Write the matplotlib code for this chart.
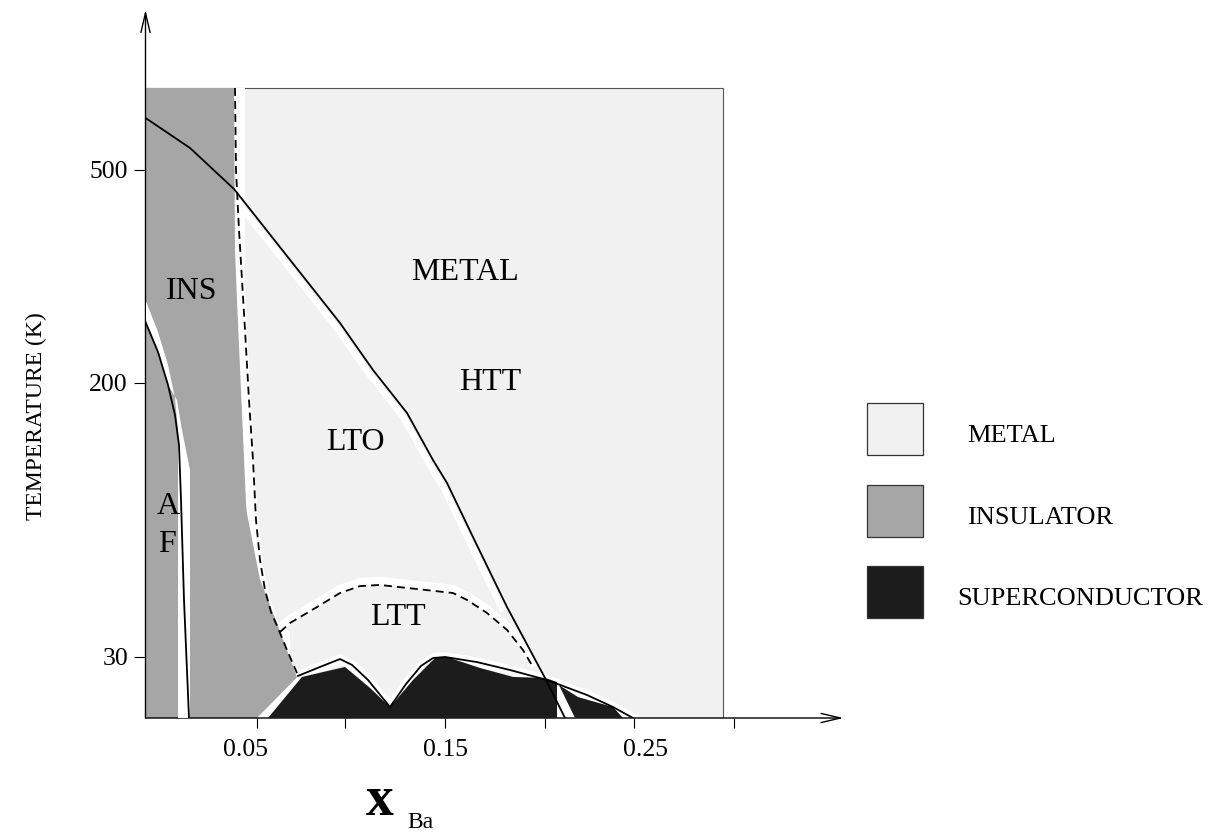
import numpy as np
import matplotlib
matplotlib.use('Agg')
import matplotlib.pyplot as plt
from matplotlib.patches import Polygon, Rectangle
from matplotlib.transforms import offset_copy

plt.rcParams['font.family'] = ['Liberation Serif', 'DejaVu Serif']

# schematic temperature axis: piecewise linear between these anchors
T_ANCHOR = [0, 30, 200, 500, 800]
H_ANCHOR = [0, 61, 335, 548, 761]


def t_fwd(t):
    return np.interp(t, T_ANCHOR, H_ANCHOR)


def t_inv(h):
    return np.interp(h, H_ANCHOR, T_ANCHOR)


# phase boundaries, x_Ba vs T (K)
box_x, box_T = 0.2888, 615.5

ins_x = [0, .04425, .04475, .04575, .05025, .05075, .05725, .06575, .07575, .05575, 0]
ins_T = [615.5, 615.5, 387, 317, 125.5, 119, 78, 51, 20, 0, 0]

gap_x = [.04225, .04975, .04975, .05075, .05275, .05475, .05675, .05925, .06225,
         .06625, .07225, .07275, .07825, .06125, .04225]
gap_T = [615.5, 615.5, 331, 274.7, 189.4, 139.8, 108.8, 84.0, 65.4,
         51.7, 45.5, 25.1, 20.2, 0, 0]

af_gap_x = [0, .00625, .01125, .01475, .01625, .01625, .02225, .02225, .01825,
            .01575, .01125, .00625, 0]
af_gap_T = [316.9, 271.8, 225.4, 190.7, 169.6, 0, 0, 146.0, 170.8,
            189.4, 198.8, 243.7, 285.9]

af_x = [0, .00625, .01125, .01475, .01675, .01775, .01925, .02175]
af_T = [285.9, 243.7, 198.8, 180.1, 161.5, 127.4, 65.4, 0]

struct_x = [0, .02225, .04425, .09725, .11375, .13075, .14375, .15075, .16375,
            .18075, .19975, .20975]
struct_T = [573.3, 531.0, 473.2, 284.5, 218.3, 181.4, 152.2, 138.0, 104.4,
            61.0, 19.7, 0]

mi_x = [.04475, .04525, .04675, .04825, .04975, .05175, .05375, .05525, .05725,
        .05975, .06275, .06625, .07075, .07575]
mi_T = [615.5, 500, 415.5, 345.1, 274.7, 189.4, 152.2, 115.0, 90.2,
        71.6, 57.9, 48.0, 34.3, 22.1]

ltt_x = [.06725, .07225, .08575, .09725, .10725, .11725, .15375, .16075, .17075,
         .18075, .18875, .19375]
ltt_T = [45.5, 51.1, 61.0, 69.7, 74.0, 74.7, 69.7, 65.4, 57.3, 46.8, 34.3, 25.1]

sc_x = [.06125, .07825, .09975, .11225, .12225, .13375, .14475, .15075, .16725,
        .18375, .19975, .20575, .20575]
sc_T = [0, 20.2, 25.1, 14.8, 5.4, 18.7, 29.5, 30.0, 24.6, 20.2, 19.7, 17.7, 0]

sc2_x = [.20675, .21625, .23375, .23875, .21475]
sc2_T = [16.2, 10.3, 5.4, 0, 0]

sc_gap_x = [.20375, .20375, .21625, .20825]
sc_gap_T = [19.7, 0, 0, 18.7]

tc_x = [.07625, .08725, .09725, .10325, .11125, .12225, .13025, .13775, .14375,
        .14975, .16575, .18225, .20075, .22075, .23375, .24375]
tc_T = [20.7, 25.1, 29.0, 26.1, 18.7, 5.4, 16.7, 25.6, 29.5,
        30.0, 27.5, 23.6, 18.7, 11.3, 5.4, 0]

region_labels = ['INS', 'METAL', 'HTT', 'LTO', 'LTT', 'A', 'F']
region_x = [.02325, .15975, .17225, .10475, .12625, .01125, .01075]
region_T = [328.2, 356.3, 200, 162.8, 54.2, 123.1, 99.5]

x_marks = [0.05575, 0.09975, 0.14975, 0.19975, 0.24425, 0.29425]
x_labels = ['0.05', '0.15', '0.25']
x_label_pos = [0.05, 0.15, 0.25]
y_ticks = [30, 200, 500]

legend_names = ['METAL', 'INSULATOR', 'SUPERCONDUCTOR']

METAL = '#f1f1f1'
INSUL = '#a6a6a6'
SUPER = '#1c1c1c'
legend_colors = [METAL, INSUL, SUPER]

W, H = 1212, 836
fig = plt.figure(figsize=(W / 100, H / 100), dpi=100)
ax = fig.add_axes([145.5 / W, 118 / H, 720 / W, 718 / H])
ax.set_xlim(0, 0.36)
ax.set_yscale('function', functions=(t_fwd, t_inv))
ax.set_ylim(0, 739.4)
ax.patch.set_visible(False)
for s in ax.spines.values():
    s.set_visible(False)

ax.add_patch(Rectangle((0, 0), box_x, box_T, facecolor=METAL,
                       edgecolor='#555555', lw=0.8, zorder=1))
ax.add_patch(Polygon(np.column_stack([gap_x, gap_T]), closed=True,
                     facecolor='white', edgecolor='none', zorder=2))

# white halos next to the boundary lines
halo_lo = offset_copy(ax.transData, fig=fig, x=-4, y=-4, units='dots')
ax.plot(struct_x[2:-2], struct_T[2:-2], color='white', lw=4.5,
        transform=halo_lo, zorder=2.5, solid_capstyle='butt')
halo_up = offset_copy(ax.transData, fig=fig, x=0, y=4, units='dots')
ax.plot(ltt_x, ltt_T, color='white', lw=6, transform=halo_up, zorder=2.5)
ax.plot(tc_x, tc_T, color='white', lw=7, zorder=2.5)
ax.add_patch(Polygon(np.column_stack([sc_gap_x, sc_gap_T]), closed=True,
                     facecolor='white', edgecolor='none', zorder=2.5))

ax.add_patch(Polygon(np.column_stack([ins_x, ins_T]), closed=True,
                     facecolor=INSUL, edgecolor='none', zorder=3))
ax.add_patch(Polygon(np.column_stack([af_gap_x, af_gap_T]), closed=True,
                     facecolor='white', edgecolor='none', zorder=4))

ax.add_patch(Polygon(np.column_stack([sc_x, sc_T]), closed=True,
                     facecolor=SUPER, edgecolor='none', zorder=5))
ax.add_patch(Polygon(np.column_stack([sc2_x, sc2_T]), closed=True,
                     facecolor=SUPER, edgecolor='none', zorder=5))

dash = (0, (4.4, 2.8))
ax.plot(struct_x, struct_T, color='black', lw=1.3, zorder=6)
ax.plot(af_x, af_T, color='black', lw=1.3, zorder=6)
ax.plot(tc_x, tc_T, color='black', lw=1.3, zorder=6)
ax.plot(mi_x, mi_T, color='black', lw=1.3, ls=dash, zorder=6)
ax.plot(ltt_x, ltt_T, color='black', lw=1.3, ls=dash, zorder=6)

for name, x, t in zip(region_labels, region_x, region_T):
    ax.text(x, t, name, ha='center', va='center', fontsize=23, zorder=7)

# axes with open arrow heads
arrow = dict(arrowstyle='->,head_length=1.4,head_width=0.33', lw=1.0,
             color='black', shrinkA=0, shrinkB=0, mutation_scale=10)
ax.annotate('', xy=(0.349, 0), xytext=(0, 0), arrowprops=arrow,
            annotation_clip=False)
ax.annotate('', xy=(0, 725.4), xytext=(0, 0), arrowprops=arrow,
            annotation_clip=False)

ax.set_yticks(y_ticks)
ax.set_yticklabels([str(v) for v in y_ticks])
ax.yaxis.set_minor_locator(matplotlib.ticker.NullLocator())
ax.tick_params(axis='y', direction='out', length=8.6, width=0.8, pad=4,
               labelsize=18.5)
ax.set_xticks(x_label_pos)
ax.set_xticklabels(x_labels)
ax.set_xticks(x_marks, minor=True)
ax.tick_params(axis='x', which='major', length=0, pad=15, labelsize=18.5)
ax.tick_params(axis='x', which='minor', direction='out', length=7.2, width=0.8)

fig.text(36 / W, 1 - 416 / H, 'TEMPERATURE (K)', rotation=90,
         ha='center', va='center', fontsize=17)
fig.text(380 / W, 1 - 801 / H, 'x', fontsize=40, fontweight='bold',
         ha='center', va='center')
fig.text(420 / W, 1 - 823 / H, 'Ba', fontsize=17, ha='center', va='center')

# legend boxes
for i, (name, col) in enumerate(zip(legend_names, legend_colors)):
    top = 403 + i * 81.5
    fig.add_artist(Rectangle((867 / W, 1 - (top + 52) / H), 56 / W, 52 / H,
                             transform=fig.transFigure, facecolor=col,
                             edgecolor='#333333', lw=0.9))
    tx = 957 if name == 'SUPERCONDUCTOR' else 967
    fig.text(tx / W, 1 - (top + 33) / H, name, fontsize=19,
             ha='left', va='center')

fig.savefig('out.png', dpi=100)
